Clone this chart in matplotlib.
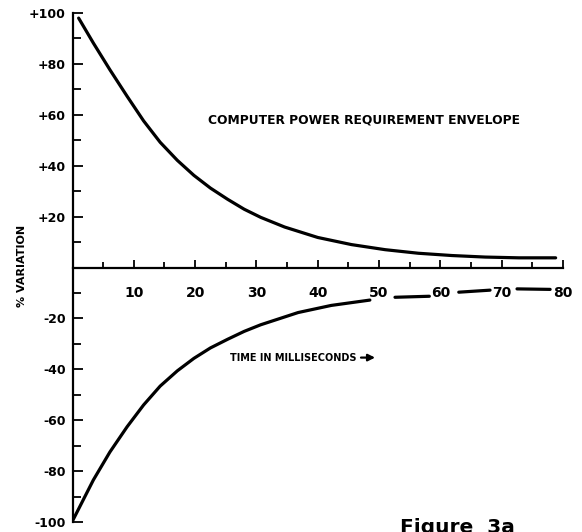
import matplotlib
matplotlib.use('Agg')
import matplotlib.pyplot as plt
import numpy as np

# upper envelope (% variation vs time in ms)
t_sup = [1, 3.4, 6.1, 8.9, 11.6, 14.3, 17.1, 19.8, 22.5, 25.3, 28, 30.7, 34.6,
         40, 45.5, 51, 56.4, 61.9, 67.3, 72.8, 78.8]
v_sup = [98, 88.2, 77.7, 67.3, 57.6, 49.2, 42.1, 36.2, 31.2, 26.8, 22.9, 19.7, 15.9,
         11.8, 9, 7, 5.6, 4.7, 4.1, 3.8, 3.8]

# lower envelope, broken by the tick labels after 50 ms
t_inf = [0, 3.4, 6.1, 8.9, 11.6, 14.3, 17.1, 19.8, 22.5, 25.3, 28, 30.7, 36.8,
         42.2, 48.5, np.nan, 52.6, 58.2, np.nan, 63, 68.1, np.nan, 72.5, 77.9]
v_inf = [-99.6, -83.5, -72.5, -62.6, -54, -46.6, -40.6, -35.7, -31.6, -28.2, -25.1,
         -22.5, -17.7, -14.9, -12.8, np.nan, -11.7, -11.3, np.nan, -9.7, -8.9,
         np.nan, -8.4, -8.6]

x_ticks = [10, 20, 30, 40, 50, 60, 70, 80]
y_ticks = [100, 80, 60, 40, 20, -20, -40, -60, -80, -100]
y_labels = ['+100', '+80', '+60', '+40', '+20', '-20', '-40', '-60', '-80', '-100']

W, H = 582, 532
fig = plt.figure(figsize=(W / 100, H / 100), dpi=100)
ax = fig.add_axes([72.5 / W, 10 / H, 490.5 / W, 509 / H])
ax.set_xlim(0, 80)
ax.set_ylim(-100, 100)

ax.plot(t_sup, v_sup, color='black', linewidth=2.3, solid_capstyle='round',
        solid_joinstyle='round')
ax.plot(t_inf, v_inf, color='black', linewidth=2.3, solid_capstyle='round',
        solid_joinstyle='round')

for s in ['top', 'right']:
    ax.spines[s].set_visible(False)
ax.spines['bottom'].set_position(('data', 0))
ax.spines['bottom'].set_linewidth(1.6)
ax.spines['left'].set_linewidth(1.6)

ax.set_xticks(x_ticks)
ax.set_xticks(np.arange(5, 80, 10), minor=True)
ax.set_xticklabels([str(v) for v in x_ticks], fontsize=10, fontweight='bold')
ax.tick_params(axis='x', which='major', direction='in', length=6, width=1.3, pad=13)
ax.tick_params(axis='x', which='minor', direction='in', length=4, width=1.3)

ax.set_yticks(y_ticks)
ax.set_yticks(np.arange(-90, 100, 20), minor=True)
ax.set_yticklabels(y_labels, fontsize=9, fontweight='bold')
ax.tick_params(axis='y', which='major', direction='in', length=7, width=1.3, pad=5)
ax.tick_params(axis='y', which='minor', direction='in', length=6, width=1.3)

ax.text(22.1, 58, 'COMPUTER POWER REQUIREMENT ENVELOPE', fontsize=8.8,
        fontweight='bold', va='center', ha='left')
ax.text(25.7, -35.4, 'TIME IN MILLISECONDS', fontsize=7, fontweight='bold',
        va='center', ha='left')
ax.annotate('', xy=(49.8, -35.4), xytext=(46.6, -35.4),
            arrowprops=dict(arrowstyle='-|>', color='black', lw=1.6,
                            mutation_scale=10))

fig.text(22 / W, 0.5, '% VARIATION', rotation=90, fontsize=8,
         fontweight='bold', ha='center', va='center')
fig.text(400 / W, 1 - 518 / H, 'Figure  3a', fontsize=14.5, fontweight='bold',
         ha='left', va='top')

plt.savefig('out.png', dpi=100)
